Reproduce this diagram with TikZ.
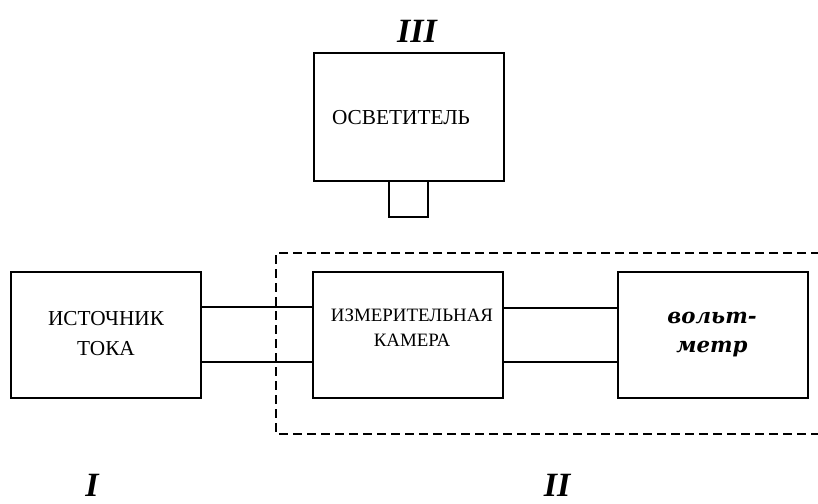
\documentclass[tikz,border=0pt]{standalone}
\usepackage{fontspec}
\setmainfont{Liberation Serif}
\newfontfamily\vmfont{DejaVu Serif}
\begin{document}
\begin{tikzpicture}[x=1pt,y=-1pt,
  blk/.style={draw,line width=1.8pt,rectangle},
  wire/.style={line width=1.2pt},
  frame/.style={line width=1.3pt,dash pattern=on 9pt off 5pt},
  lbl/.style={font=\fontsize{21.3}{30}\selectfont,align=center,inner sep=0pt},
  roman/.style={font=\fontsize{34}{34}\selectfont\bfseries\itshape,inner sep=0pt,anchor=base}]
\useasboundingbox (0,0) rectangle (818,503);
% blocks
\draw[blk] (314,53) rectangle (504,181);
\draw[blk] (389,181) rectangle (428,217);
\draw[blk] (11,272) rectangle (201,398);
\draw[blk] (313,272) rectangle (503,398);
\draw[blk] (618,272) rectangle (808,398);
% wires
\coordinate (a1) at (201,307); \coordinate (b1) at (313,307);
\coordinate (a2) at (201,362); \coordinate (b2) at (313,362);
\coordinate (c1) at (503,308); \coordinate (d1) at (618,308);
\coordinate (c2) at (503,362); \coordinate (d2) at (618,362);
\draw[wire] (a1) -- (b1); \draw[wire] (a2) -- (b2);
\draw[wire] (c1) -- (d1); \draw[wire] (c2) -- (d2);
% dashed frame
\draw[frame] (820,253) -- (276,253) -- (276,434) -- (820,434);
% texts
\node[lbl] (t1) at (401,118) {ОСВЕТИТЕЛЬ};
\node[lbl] (t2) at (106,334) {ИСТОЧНИК\\ТОКА};
\node[lbl,font=\fontsize{18.9}{25}\selectfont] (t3) at (412,328) {ИЗМЕРИТЕЛЬНАЯ\\КАМЕРА};
\node[lbl,font=\fontsize{21.3}{29}\selectfont\vmfont\bfseries\itshape] (t4) at (712,335) {вольт-\\метр};
\node[roman] (r3) at (417,42) {III};
\node[roman] (r1) at (92,496) {I};
\node[roman] (r2) at (557,496) {II};
\end{tikzpicture}
\end{document}
